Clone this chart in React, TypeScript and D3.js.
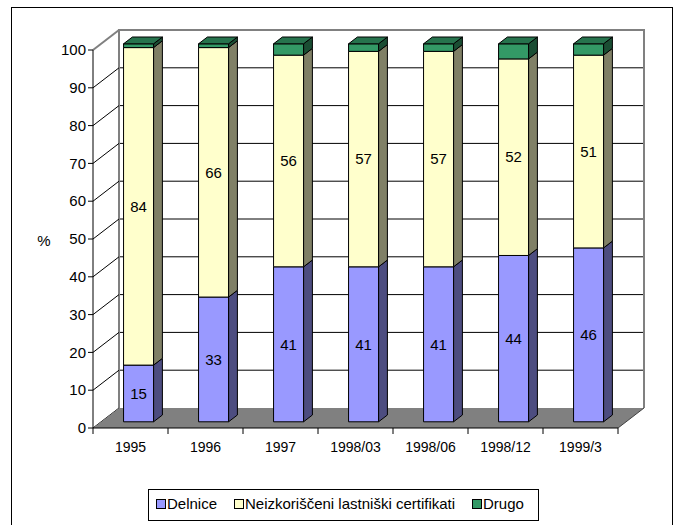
import React from "react";
import * as d3 from "d3";

// Ownership structure by period (percent)
const categories = ["1995", "1996", "1997", "1998/03", "1998/06", "1998/12", "1999/3"];
const delnice = [15, 33, 41, 41, 41, 44, 46];
const neizkorisceni = [84, 66, 56, 57, 57, 52, 51];
const drugo = [1, 1, 3, 2, 2, 4, 3];
const seriesNames = ["Delnice", "Neizkoriščeni lastniški certifikati", "Drugo"];
const yTicks = [0, 10, 20, 30, 40, 50, 60, 70, 80, 90, 100];

const W = 678;
const H = 525;
const FONT = "Arial, 'Liberation Sans', sans-serif";

// colours: front face, side face (shade), top face
const fills = ["#9999FF", "#FFFFCC", "#339966"];
const shade = (c: string, k: number) => {
  const col = d3.rgb(c);
  return d3.rgb(col.r * k, col.g * k, col.b * k).formatHex();
};

// 3D depth of the plot box
const DX = 26;
const DY = -20;
const F1 = 0.31; // bar front face depth fraction
const F2 = 0.65; // bar back face depth fraction

export default function App() {
  const x = d3.scaleBand<string>().domain(categories).range([93, 618]);
  const y = d3.scaleLinear().domain([0, 100]).range([428, 50]);
  const barW = x.bandwidth() * 0.4;

  const x0 = 93;
  const x1 = 618;
  const yb = y(0);
  const yt = y(100);

  const series = [delnice, neizkorisceni, drugo];
  const stack = d3
    .stack<number>()
    .keys(["0", "1", "2"])
    .value((i, k) => series[+k][i]);
  const stacked = stack(categories.map((_, i) => i));

  const pt = (px: number, py: number, f: number) => `${px + DX * f},${py + DY * f}`;

  const bars: React.ReactNode[] = [];
  categories.forEach((cat, ci) => {
    const cx = (x(cat) as number) + x.bandwidth() / 2;
    const bx0 = cx - barW / 2;
    const bx1 = cx + barW / 2;
    stacked.forEach((layer, si) => {
      const [v0, v1] = layer[ci];
      const ya = y(v0);
      const yb2 = y(v1);
      const front = [pt(bx0, ya, F1), pt(bx1, ya, F1), pt(bx1, yb2, F1), pt(bx0, yb2, F1)].join(" ");
      const side = [pt(bx1, ya, F1), pt(bx1, ya, F2), pt(bx1, yb2, F2), pt(bx1, yb2, F1)].join(" ");
      const top = [pt(bx0, yb2, F1), pt(bx1, yb2, F1), pt(bx1, yb2, F2), pt(bx0, yb2, F2)].join(" ");
      const isTop = si === stacked.length - 1;
      bars.push(
        <g key={`${ci}-${si}`}>
          <polygon points={side} fill={shade(fills[si], 0.5)} stroke="#000" strokeWidth={1} strokeLinejoin="round" />
          <polygon points={front} fill={fills[si]} stroke="#000" strokeWidth={1} strokeLinejoin="round" />
          {isTop && (
            <polygon points={top} fill={shade(fills[si], 0.75)} stroke="#000" strokeWidth={1} strokeLinejoin="round" />
          )}
        </g>
      );
    });
  });

  const labels: React.ReactNode[] = [];
  categories.forEach((cat, ci) => {
    const cx = (x(cat) as number) + x.bandwidth() / 2 + DX * F1;
    [0, 1].forEach((si) => {
      const [v0, v1] = stacked[si][ci];
      const cy = y((v0 + v1) / 2) + DY * F1;
      labels.push(
        <text key={`l${ci}-${si}`} x={cx} y={cy} dy="0.35em" textAnchor="middle" fontSize={15} fontFamily={FONT} fill="#000">
          {series[si][ci]}
        </text>
      );
    });
  });

  const legendItems = [
    { sx: 156, tx: 167 },
    { sx: 234, tx: 245 },
    { sx: 472, tx: 483 },
  ];

  return (
    <svg width={W} height={H} style={{ position: "absolute", left: 0, top: 0, background: "#fff" }}>
      {/* outer chart frame */}
      <rect x={11.5} y={7.5} width={661} height={540} fill="#fff" stroke="#000" strokeWidth={1} />

      {/* back wall */}
      <rect x={x0 + DX} y={yt + DY} width={x1 - x0} height={yb - yt} fill="#fff" />
      {yTicks.slice(1, -1).map((t) => (
        <line key={`g${t}`} x1={x0 + DX} x2={x1 + DX} y1={y(t) + DY} y2={y(t) + DY} stroke="#000" strokeWidth={1} />
      ))}
      <polyline
        points={`${x0 + DX},${yb + DY} ${x0 + DX},${yt + DY} ${x1 + DX},${yt + DY} ${x1 + DX},${yb + DY}`}
        fill="none"
        stroke="#808080"
        strokeWidth={2}
      />

      {/* left wall diagonals */}
      {yTicks.map((t) => (
        <line
          key={`d${t}`}
          x1={x0}
          y1={y(t)}
          x2={x0 + DX}
          y2={y(t) + DY}
          stroke={t === 100 ? "#808080" : "#000"}
          strokeWidth={t === 100 ? 2 : 1}
        />
      ))}

      {/* floor */}
      <polygon
        points={`${x0},${yb} ${x1},${yb} ${x1 + DX},${yb + DY} ${x0 + DX},${yb + DY}`}
        fill="#808080"
        stroke="none"
      />
      <line x1={x1} y1={yb} x2={x1 + DX} y2={yb + DY} stroke="#404040" strokeWidth={1} />

      {/* value axis */}
      <line x1={x0} x2={x0} y1={yt} y2={yb} stroke="#000" strokeWidth={1} />
      {yTicks.map((t) => (
        <g key={`t${t}`}>
          <line x1={x0 - 5} x2={x0} y1={y(t)} y2={y(t)} stroke="#000" strokeWidth={1} />
          <text x={x0 - 7} y={y(t)} dy="0.35em" textAnchor="end" fontSize={15} fontFamily={FONT} fill="#000">
            {t}
          </text>
        </g>
      ))}
      <text x={44} y={241} dy="0.35em" textAnchor="middle" fontSize={15} fontFamily={FONT} fill="#000">
        %
      </text>

      {/* category axis */}
      <line x1={x0} x2={x1} y1={yb} y2={yb} stroke="#000" strokeWidth={1} />
      {d3.range(categories.length + 1).map((i) => {
        const px = x0 + i * x.step();
        return <line key={`ct${i}`} x1={px} x2={px} y1={yb} y2={yb + 6} stroke="#000" strokeWidth={1} />;
      })}
      {categories.map((c) => (
        <text
          key={`c${c}`}
          x={(x(c) as number) + x.bandwidth() / 2}
          y={447}
          dy="0.35em"
          textAnchor="middle"
          fontSize={14}
          fontFamily={FONT}
          fill="#000"
        >
          {c}
        </text>
      ))}

      {bars}
      {labels}

      {/* legend */}
      <rect x={148.5} y={489.5} width={390} height={31} fill="#fff" stroke="#000" strokeWidth={1} />
      {seriesNames.map((name, i) => (
        <g key={name}>
          <rect x={legendItems[i].sx + 0.5} y={499.5} width={9} height={9} fill={fills[i]} stroke="#000" strokeWidth={1} />
          <text x={legendItems[i].tx} y={504} dy="0.35em" fontSize={15} fontFamily={FONT} fill="#000">
            {name}
          </text>
        </g>
      ))}
    </svg>
  );
}
